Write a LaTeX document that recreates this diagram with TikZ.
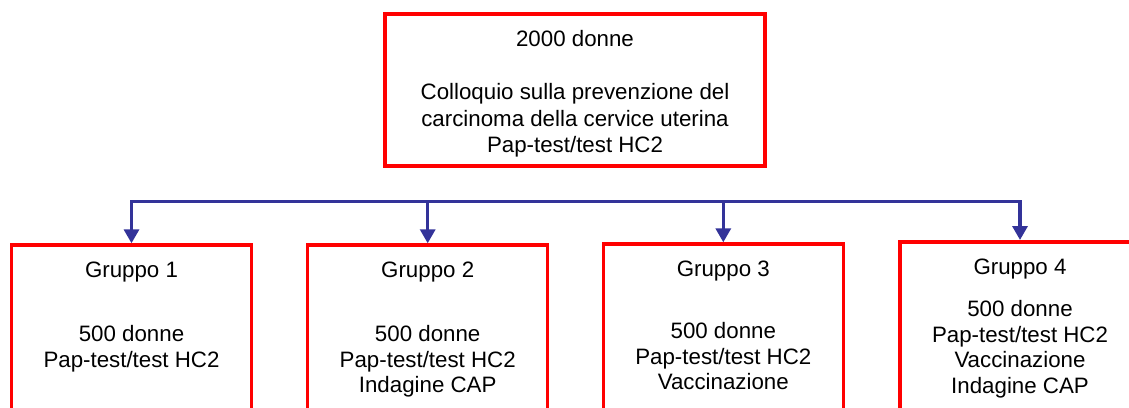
\documentclass[tikz,border=0pt]{standalone}
\usepackage{fontspec}
\setmainfont{Liberation Sans}
\usepackage{xcolor}
\usetikzlibrary{arrows.meta, positioning, calc}
\definecolor{boxred}{RGB}{255,0,0}
\definecolor{busblue}{RGB}{51,51,153}

\begin{document}
\begin{tikzpicture}[
    x=1pt, y=-1pt,
    >={Triangle[length=14pt,width=15pt]},
    every node/.style={inner sep=0pt},
    topbox/.style={draw=boxred, line width=3.5pt,
                   minimum width=380pt, minimum height=152pt},
    groupbox/.style={draw=boxred, line width=3.5pt, anchor=north,
                     minimum width=240pt, minimum height=240pt},
    toptext/.style={anchor=north, align=center,
                    font=\fontsize{22.3}{26.5}\selectfont},
    grouptext/.style={anchor=north, align=center,
                      font=\fontsize{22.3}{25.5}\selectfont},
    flow/.style={->, draw=busblue, line width=3.3pt, line join=miter}
  ]
  \useasboundingbox (0,0) rectangle (1129,407);
  \clip (0,0) rectangle (1129,407);

  % ===== TOP BOX =====
  \node[topbox] (root) at (575,90) {};
  \node[toptext] (roottext) at (root.north) [yshift=-18pt]
    {2000 donne\\[26.5pt]
     Colloquio sulla prevenzione del\\
     carcinoma della cervice uterina\\
     Pap-test/test HC2};

  % ===== GROUPS =====
  \node[groupbox] (g1) at (131.5,243.3) {};
  \node[grouptext] (g1text) at (g1.north) [yshift=-18.5pt]
    {Gruppo 1\\[38.5pt]500 donne\\Pap-test/test HC2};

  \node[groupbox] (g2) at (427.7,243.3) {};
  \node[grouptext] (g2text) at (g2.north) [yshift=-18.5pt]
    {Gruppo 2\\[38.5pt]500 donne\\Pap-test/test HC2\\Indagine CAP};

  \node[groupbox] (g3) at (723.3,242.3) {};
  \node[grouptext] (g3text) at (g3.north) [yshift=-18.5pt]
    {Gruppo 3\\[36.5pt]500 donne\\Pap-test/test HC2\\Vaccinazione};

  \node[groupbox] (g4) at (1020,240) {};
  \node[grouptext] (g4text) at (g4.north) [yshift=-18.8pt]
    {Gruppo 4\\[16.5pt]500 donne\\Pap-test/test HC2\\Vaccinazione\\Indagine CAP};

  % ===== BUS =====
  \coordinate (bus) at (0,201.7);
  \draw[flow, <->] (g1.north) |- (bus -| g4.north) -- (g4.north);
  \draw[flow] (bus -| g2.north) -- (g2.north);
  \draw[flow] (bus -| g3.north) -- (g3.north);

\end{tikzpicture}
\end{document}
